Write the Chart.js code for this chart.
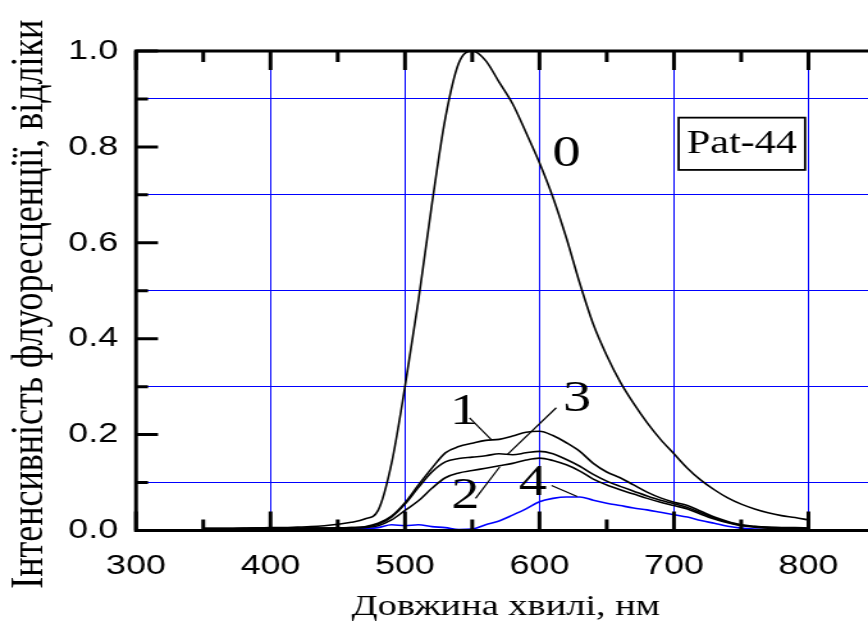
<!DOCTYPE html>
<html>
<head>
<meta charset="utf-8">
<script src="https://cdn.jsdelivr.net/npm/chart.js@4.4.1/dist/chart.umd.min.js"></script>
<style>
  html, body { margin: 0; padding: 0; background: #fff; overflow: hidden; }
  #wrap { width: 868px; height: 630px; overflow: hidden; }
  #spectra { display: block; }
</style>
</head>
<body>
<div id="wrap"><canvas id="spectra" width="703" height="630" style="width: 900px; height: 630px;"></canvas></div>
<script>
// wavelengths, nm
const wavelengths = [
  350, 360, 370, 380, 390, 400, 410, 420, 430, 440,
  450, 460, 470, 480, 490, 500, 510, 520, 530, 540,
  550, 560, 570, 580, 590, 600, 610, 620, 630, 640,
  650, 660, 670, 680, 690, 700, 710, 720, 730, 740,
  750, 760, 770, 780, 790, 800
];

// fluorescence intensity, normalised
const curve0 = [
  0.004, 0.004, 0.004, 0.005, 0.005, 0.006, 0.006, 0.007, 0.008, 0.010,
  0.013, 0.017, 0.024, 0.042, 0.140, 0.300, 0.480, 0.680, 0.860, 0.975,
  1.000, 0.980, 0.935, 0.890, 0.830, 0.767, 0.695, 0.610, 0.515, 0.430,
  0.365, 0.310, 0.265, 0.225, 0.190, 0.160, 0.130, 0.105, 0.085, 0.068,
  0.055, 0.045, 0.037, 0.031, 0.027, 0.022
];
const curve1 = [
  0.004, 0.004, 0.004, 0.004, 0.005, 0.005, 0.004, 0.005, 0.005, 0.005,
  0.005, 0.006, 0.008, 0.015, 0.030, 0.058, 0.095, 0.130, 0.162, 0.175,
  0.182, 0.188, 0.190, 0.197, 0.205, 0.207, 0.198, 0.183, 0.165, 0.140,
  0.122, 0.110, 0.095, 0.080, 0.068, 0.059, 0.052, 0.040, 0.028, 0.019,
  0.012, 0.009, 0.007, 0.006, 0.006, 0.005
];
const curve2 = [
  0.004, 0.004, 0.004, 0.004, 0.004, 0.005, 0.004, 0.004, 0.005, 0.004,
  0.005, 0.005, 0.006, 0.010, 0.022, 0.042, 0.062, 0.088, 0.110, 0.120,
  0.125, 0.130, 0.135, 0.140, 0.147, 0.151, 0.146, 0.137, 0.124, 0.107,
  0.095, 0.085, 0.076, 0.067, 0.059, 0.052, 0.045, 0.034, 0.024, 0.016,
  0.010, 0.007, 0.005, 0.005, 0.004, 0.004
];
const curve3 = [
  0.004, 0.004, 0.004, 0.004, 0.005, 0.004, 0.005, 0.004, 0.005, 0.005,
  0.005, 0.006, 0.007, 0.013, 0.028, 0.055, 0.090, 0.122, 0.143, 0.150,
  0.153, 0.156, 0.160, 0.158, 0.162, 0.165, 0.160, 0.148, 0.134, 0.117,
  0.103, 0.092, 0.082, 0.072, 0.063, 0.056, 0.048, 0.037, 0.026, 0.017,
  0.011, 0.008, 0.006, 0.005, 0.004, 0.004
];
const curve4 = [
  0.003, 0.002, 0.003, 0.002, 0.003, 0.002, 0.003, 0.002, 0.003, 0.002,
  0.003, 0.003, 0.004, 0.006, 0.012, 0.010, 0.012, 0.008, 0.006, 0.002,
  0.003, 0.012, 0.020, 0.032, 0.045, 0.060, 0.067, 0.070, 0.070, 0.063,
  0.057, 0.052, 0.047, 0.043, 0.038, 0.033, 0.028, 0.021, 0.015, 0.009,
  0.005, 0.003, 0.002, 0.002, 0.001, 0.001
];

const xTickLabels = [300, 400, 500, 600, 700, 800];
const yTickLabels = ["0.0", "0.2", "0.4", "0.6", "0.8", "1.0"];

// the original picture is stretched sideways; draw narrow and stretch with css
const canvas = document.getElementById("spectra");
const stretch = 900 / canvas.width;

// curve numbers, leader lines and the sample box, in data units
const notes = {
  labels: [
    { text: "0", x: 620, y: 0.785 },
    { text: "1", x: 544, y: 0.246 },
    { text: "2", x: 545, y: 0.071 },
    { text: "3", x: 628, y: 0.273 },
    { text: "4", x: 595, y: 0.098 },
  ],
  leaders: [
    [548, 0.235, 564, 0.19],
    [552.5, 0.067, 570.5, 0.133],
    [612.5, 0.256, 576, 0.158],
    [609, 0.094, 628, 0.071],
  ],
  box: { x1: 703.5, x2: 797.5, y1: 0.861, y2: 0.752, text: "Pat-44" },
};

const frameAndTicks = {
  id: "frameAndTicks",
  afterDatasetsDraw(chart) {
    const { ctx, chartArea: a, scales } = chart;
    const x = scales.x;
    const y = scales.y;
    ctx.save();
    ctx.strokeStyle = "#000";
    ctx.lineWidth = 3;
    ctx.beginPath();
    x.ticks.forEach((t) => {
      const px = x.getPixelForValue(t.value);
      const len = t.value % 100 === 0 ? 19 : 11;
      ctx.moveTo(px, a.bottom);
      ctx.lineTo(px, a.bottom - len);
      ctx.moveTo(px, a.top);
      ctx.lineTo(px, a.top + len);
    });
    // only the left side: the right frame lies outside the window
    y.ticks.forEach((t) => {
      const py = y.getPixelForValue(t.value);
      const major = Math.round(t.value * 10) % 2 === 0;
      const len = (major ? 22 : 12) / stretch;
      ctx.moveTo(a.left, py);
      ctx.lineTo(a.left + len, py);
    });
    ctx.stroke();
    ctx.lineJoin = "miter";
    ctx.strokeRect(a.left, a.top, a.right - a.left, a.bottom - a.top);
    ctx.restore();
  },
  afterDraw(chart) {
    const { ctx, scales } = chart;
    const x = scales.x;
    const y = scales.y;
    ctx.save();
    ctx.fillStyle = "#000";
    ctx.strokeStyle = "#000";
    ctx.textAlign = "center";
    ctx.textBaseline = "middle";
    ctx.font = "44px 'Liberation Serif'";
    notes.labels.forEach((l) => {
      ctx.fillText(l.text, x.getPixelForValue(l.x), y.getPixelForValue(l.y));
    });
    ctx.lineWidth = 1.2;
    ctx.beginPath();
    notes.leaders.forEach((s) => {
      ctx.moveTo(x.getPixelForValue(s[0]), y.getPixelForValue(s[1]));
      ctx.lineTo(x.getPixelForValue(s[2]), y.getPixelForValue(s[3]));
    });
    ctx.stroke();
    const b = notes.box;
    const bx1 = x.getPixelForValue(b.x1);
    const bx2 = x.getPixelForValue(b.x2);
    const by1 = y.getPixelForValue(b.y1);
    const by2 = y.getPixelForValue(b.y2);
    ctx.fillStyle = "#fff";
    ctx.fillRect(bx1, by1, bx2 - bx1, by2 - by1);
    ctx.lineWidth = 1.8;
    ctx.strokeRect(bx1, by1, bx2 - bx1, by2 - by1);
    ctx.fillStyle = "#000";
    ctx.font = "33px 'Liberation Serif'";
    ctx.fillText(b.text, (bx1 + bx2) / 2, (by1 + by2) / 2 + 1);
    ctx.restore();
  },
};

function series(values) {
  return wavelengths.map((w, i) => ({ x: w, y: values[i] }));
}

function curveDataset(label, values, color) {
  return {
    label: label,
    data: series(values),
    borderColor: color,
    borderWidth: 1.6,
    pointRadius: 0,
    fill: false,
    cubicInterpolationMode: "monotone",
  };
}

const blueGrid = "#0000ff";

new Chart(canvas, {
  type: "line",
  data: {
    datasets: [
      curveDataset("0", curve0, "#000"),
      curveDataset("1", curve1, "#000"),
      curveDataset("2", curve2, "#000"),
      curveDataset("3", curve3, "#000"),
      curveDataset("4", curve4, "#0000ff"),
    ],
  },
  options: {
    responsive: false,
    animation: false,
    layout: {
      padding: { left: 0, top: 51, right: canvas.width - 876 / stretch, bottom: 0 },
    },
    scales: {
      x: {
        type: "linear",
        min: 300,
        max: 850,
        ticks: {
          stepSize: 50,
          padding: 19,
          color: "#000",
          font: { family: "'Liberation Sans'", size: 28 },
          maxRotation: 0,
          autoSkip: false,
          callback: (v) => (xTickLabels.includes(v) ? String(v) : ""),
        },
        grid: {
          drawTicks: false,
          lineWidth: 1,
          color: (c) =>
            c.tick && c.tick.value % 100 === 0 && c.tick.value >= 400 && c.tick.value <= 800
              ? blueGrid
              : "rgba(0,0,0,0)",
        },
        border: { display: false },
        title: {
          display: true,
          text: "Довжина хвилі, нм",
          color: "#000",
          font: { family: "'Liberation Serif'", size: 30 },
          padding: { top: 0, bottom: 5 },
        },
        afterFit: (scale) => {
          scale.height = 99.5;
        },
      },
      y: {
        min: 0,
        max: 1,
        ticks: {
          stepSize: 0.1,
          padding: 14,
          color: "#000",
          font: { family: "'Liberation Sans'", size: 28 },
          callback: (v) => {
            const s = v.toFixed(1);
            return yTickLabels.includes(s) ? s : "";
          },
        },
        grid: {
          drawTicks: false,
          lineWidth: 1,
          color: (c) =>
            c.tick && Math.round(c.tick.value * 10) % 2 === 1 ? blueGrid : "rgba(0,0,0,0)",
        },
        border: { display: false },
        title: {
          display: true,
          text: "Інтенсивність флуоресценції, відліки\u00a0\u00a0\u00a0",
          color: "#000",
          font: { family: "'Liberation Serif'", size: 36 },
          padding: { top: 2, bottom: 0 },
        },
        afterFit: (scale) => {
          scale.width = 136 / stretch;
        },
      },
    },
    plugins: {
      legend: { display: false },
      tooltip: { enabled: false },
    },
  },
  plugins: [frameAndTicks],
});
</script>
</body>
</html>
